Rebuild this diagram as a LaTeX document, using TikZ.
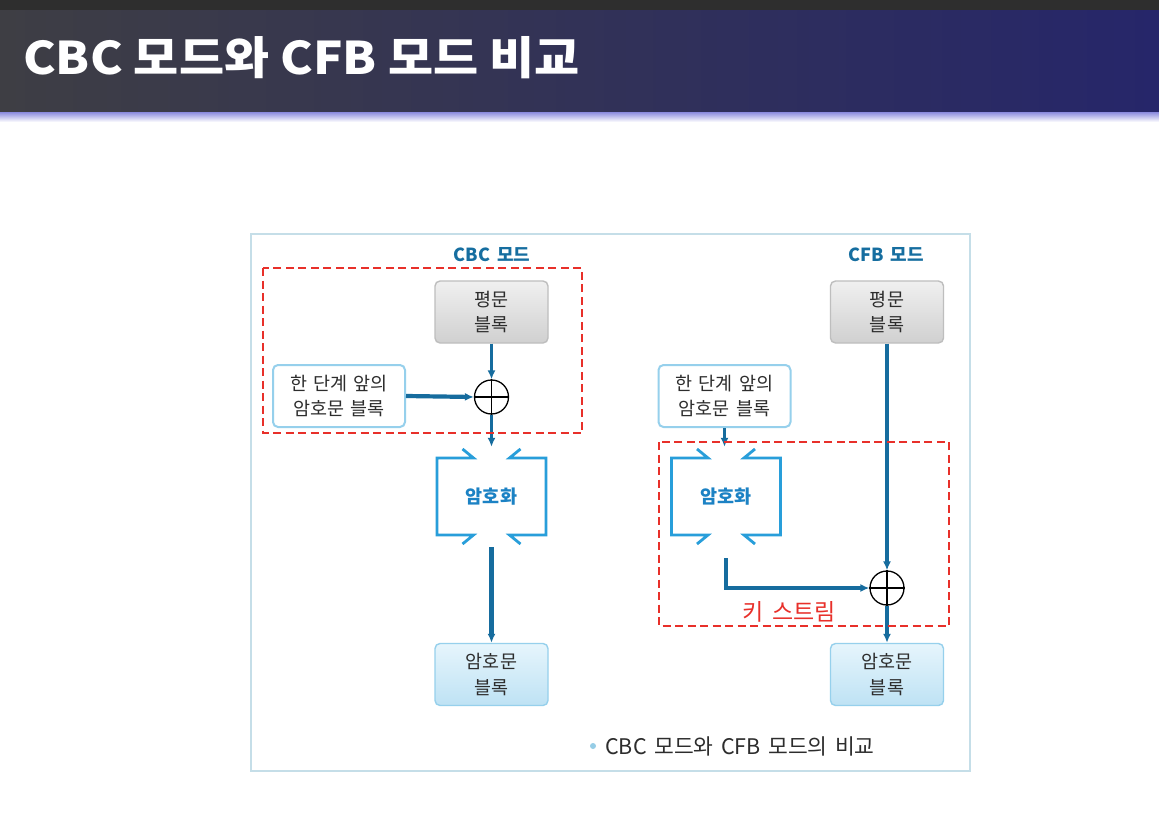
\documentclass[tikz,border=0pt]{standalone}
\usepackage{fontspec}
\setmainfont{Noto Sans CJK KR}
\usetikzlibrary{arrows.meta,calc}
\newcommand\widesp[1]{\spaceskip=#1\relax}
\definecolor{topstrip}{RGB}{46,46,46}
\definecolor{titleL}{RGB}{62,62,68}
\definecolor{titleR}{RGB}{38,38,106}
\definecolor{bandc}{RGB}{150,150,225}
\definecolor{framec}{RGB}{197,222,232}
\definecolor{arrc}{RGB}{22,108,158}
\definecolor{encc}{RGB}{40,158,218}
\definecolor{enctext}{RGB}{28,130,196}
\definecolor{modec}{RGB}{22,110,160}
\definecolor{redc}{RGB}{232,48,42}
\definecolor{textc}{RGB}{45,45,45}
\definecolor{grayborder}{RGB}{190,190,190}
\definecolor{graytop}{RGB}{240,240,240}
\definecolor{graybot}{RGB}{208,208,208}
\definecolor{blueborder}{RGB}{150,208,236}
\definecolor{bluetop}{RGB}{230,245,252}
\definecolor{bluebot}{RGB}{190,226,244}
\definecolor{bulletc}{RGB}{150,205,230}
\begin{document}
\begin{tikzpicture}[x=1pt,y=-1pt,
  plainbox/.style={rectangle, rounded corners=5pt, minimum width=113pt, minimum height=62pt,
    draw=grayborder, line width=1.4pt, top color=graytop, bottom color=graybot,
    align=center, font={\fontsize{18.5}{25.5}\selectfont\widesp{6pt}}, text=textc, inner sep=0pt},
  cipherbox/.style={plainbox, draw=blueborder, top color=bluetop, bottom color=bluebot},
  prevbox/.style={plainbox, minimum width=132pt, draw=blueborder, line width=2pt, fill=white, top color=white, bottom color=white},
  xorc/.style={circle, draw=black, line width=1.3pt, minimum size=34pt, inner sep=0pt, fill=white},
  encnode/.style={rectangle, minimum width=109pt, minimum height=100pt, inner sep=0pt,
    font={\fontsize{18.5}{20}\selectfont\bfseries}, text=enctext},
  modelabel/.style={font={\fontsize{18}{20}\selectfont\bfseries\widesp{7pt}}, text=modec},
  arr/.style={draw=arrc, line width=3.2pt, -{Latex[length=9pt,width=8pt]}},
  thickarr/.style={arr, line width=4.2pt},
  encline/.style={draw=encc, line width=2.8pt, line join=miter},
  redbox/.style={draw=redc, line width=2.2pt, dash pattern=on 8pt off 4.5pt}
]
\useasboundingbox (0,0) rectangle (1159,829);
\fill[white] (0,0) rectangle (1159,829);
% title bar
\fill[topstrip] (0,0) rectangle (1159,11);
\shade[left color=titleL, right color=titleR] (0,11) rectangle (1159,113);
\shade[top color=bandc, bottom color=white] (0,113) rectangle (1159,122);
\node[anchor=west, font={\fontsize{45}{50}\selectfont\bfseries}, text=white, inner sep=0pt] (title) at (23,58) {\scalebox{1.09}[1]{CBC 모드와 CFB 모드 비교}};
% frame
\draw[framec, line width=1.2pt, fill=white] (251,234) rectangle (970,771);

% mode labels
\node[modelabel] (m1) at (492,255) {CBC 모드};
\node[modelabel] (m2) at (886,255) {CFB 모드};

% CBC nodes
\node[plainbox] (p1) at (491.5,312) {평문\\블록};
\node[prevbox] (prev1) at (339,396) {한 단계 앞의\\암호문 블록};
\node[xorc] (x1) at (491.5,397) {};
\draw[black, line width=1.3pt] (x1.north) -- (x1.south) (x1.west) -- (x1.east);
\node[encnode] (enc1) at (491.5,497) {암호화};
\node[cipherbox] (c1) at (491.5,674.5) {암호문\\블록};

% CFB nodes
\node[plainbox] (p2) at (887,312) {평문\\블록};
\node[prevbox] (prev2) at (724.5,396) {한 단계 앞의\\암호문 블록};
\node[encnode] (enc2) at (726,497) {암호화};
\node[xorc] (x2) at (887,588) {};
\draw[black, line width=1.3pt] (x2.north) -- (x2.south) (x2.west) -- (x2.east);
\node[cipherbox] (c2) at (887,674.5) {암호문\\블록};

% encryption bracket shapes
\foreach \n in {enc1,enc2}{
  \begin{scope}[shift={(\n.center)}]
    \draw[encline] (-29,-48) -- (-18,-39) -- (-54.5,-39) -- (-54.5,38) -- (-18,38) -- (-29,47);
    \draw[encline] (29,-48) -- (18,-39) -- (54.5,-39) -- (54.5,38) -- (18,38) -- (29,47);
  \end{scope}
}

% CBC connectors
\draw[arr] (p1.south) -- (x1.north);
\draw[thickarr] (prev1.east) -- (x1.west);
\draw[arr] (x1.south) -- (enc1.north);
\draw[thickarr] (enc1.south) -- (c1.north);

% CFB connectors
\draw[arr] (prev2.south) -- (prev2.south |- enc2.north);
\draw[arr] (p2.south) -- (x2.north);
\draw[arr] ([yshift=-11pt]enc2.south) |- (x2.west);
\draw[arr] (x2.south) -- (c2.north);

% red dashed boxes
\draw[redbox] (263,268) rectangle (582,433);
\draw[redbox] (659,442) rectangle (949,626);
\node[font={\fontsize{23}{26}\selectfont\widesp{9pt}}, text=redc] (ks) at (789,612) {키 스트림};

% caption
\fill[bulletc] (593,746) circle (3pt);
\node[anchor=west, font={\fontsize{21.5}{24}\selectfont\widesp{7.5pt}}, text=textc, inner sep=0pt] (cap) at (605,746) {CBC 모드와 CFB 모드의 비교};
\end{tikzpicture}
\end{document}
